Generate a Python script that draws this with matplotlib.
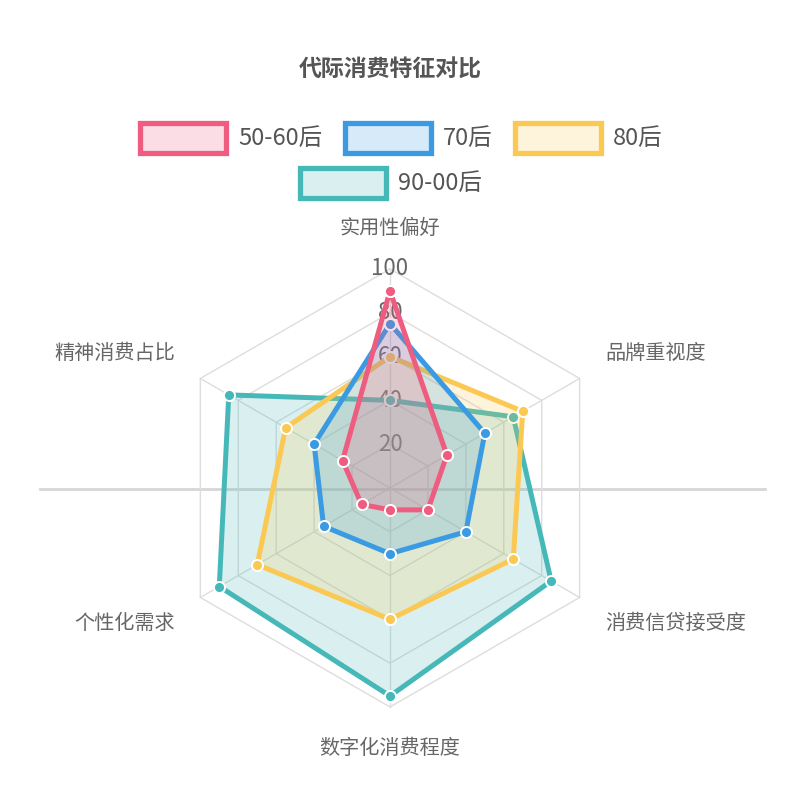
import numpy as np
import matplotlib
matplotlib.use("Agg")
import matplotlib.pyplot as plt
from matplotlib.lines import Line2D
from matplotlib.patches import Rectangle

plt.rcParams['font.family'] = ['Noto Sans CJK SC', 'DejaVu Sans']

categories = ["实用性偏好", "品牌重视度", "消费信贷接受度", "数字化消费程度", "个性化需求", "精神消费占比"]
series_names = ["50-60后", "70后", "80后", "90-00后"]
vals_5060 = [90, 30, 20, 10, 15, 25]
vals_70 = [75, 50, 40, 30, 35, 40]
vals_80 = [60, 70, 65, 60, 70, 55]
vals_9000 = [40, 65, 85, 95, 90, 85]
ticks = [20, 40, 60, 80, 100]
colors = ["#ee5c80", "#3a9ae2", "#fbc953", "#47b8b8"]

all_vals = [vals_5060, vals_70, vals_80, vals_9000]
n = len(categories)
angles = np.linspace(0, 2 * np.pi, n, endpoint=False)
ang_closed = np.append(angles, angles[0])

fig = plt.figure(figsize=(8.08, 8.0), dpi=100)
fig.patch.set_facecolor("white")

# stray horizontal line across the middle
fig.add_artist(Line2D([40 / 808, 765 / 808], [1 - 489 / 800, 1 - 489 / 800],
                      color="#d6d6d6", lw=2.0, zorder=0))

ax = fig.add_axes([0.2116, 0.1163, 0.5421, 0.5475], projection="polar")
ax.set_theta_offset(np.pi / 2)
ax.set_theta_direction(-1)
ax.set_ylim(0, 100)
ax.axis("off")
ax.patch.set_alpha(0)

# hexagon grid
for t in ticks:
    ax.plot(ang_closed, [t] * (n + 1), color="#dddddd", lw=1.0, zorder=1, clip_on=False)
for a in angles:
    ax.plot([a, a], [0, 100], color="#dddddd", lw=1.0, zorder=1, clip_on=False)

# radial tick labels
for t in ticks:
    ax.text(0, t, str(t), ha="center", va="center", fontsize=16, color="#666666", zorder=2)

# data, first series on top
for i in reversed(range(len(all_vals))):
    v = np.append(all_vals[i], all_vals[i][0])
    z = 10 + (len(all_vals) - i) * 3
    ax.fill(ang_closed, v, color=colors[i], alpha=0.2, zorder=z, lw=0)
    ax.plot(ang_closed, v, color=colors[i], lw=3.6, zorder=z + 1, clip_on=False,
            marker="o", markersize=8, markerfacecolor=colors[i],
            markeredgecolor="white", markeredgewidth=1.4)

# category labels
lab_pos = [(390, 228, "center"), (605, 353, "left"), (605, 623, "left"),
           (390, 748, "center"), (175, 623, "right"), (175, 353, "right")]
for name, (px, py, ha) in zip(categories, lab_pos):
    fig.text(px / 808, 1 - py / 800, name, ha=ha, va="center", fontsize=14.5, color="#666666")

fig.text(390 / 808, 1 - 70 / 800, "代际消费特征对比", ha="center", va="center",
         fontsize=16.5, fontweight="bold", color="#555555")

# legend
leg_pos = [(140, 138), (345, 138), (515, 138), (300, 183)]
for name, c, (px, py) in zip(series_names, colors, leg_pos):
    x0 = px / 808
    y0 = 1 - (py + 15) / 800
    fig.add_artist(Rectangle((x0, y0), 86 / 808, 30 / 800, transform=fig.transFigure,
                             facecolor=matplotlib.colors.to_rgba(c, 0.2),
                             edgecolor=c, lw=3.8))
    fig.text((px + 98) / 808, 1 - py / 800, name, ha="left", va="center",
             fontsize=17, color="#555555")

fig.savefig("out.png", dpi=100, facecolor="white")
